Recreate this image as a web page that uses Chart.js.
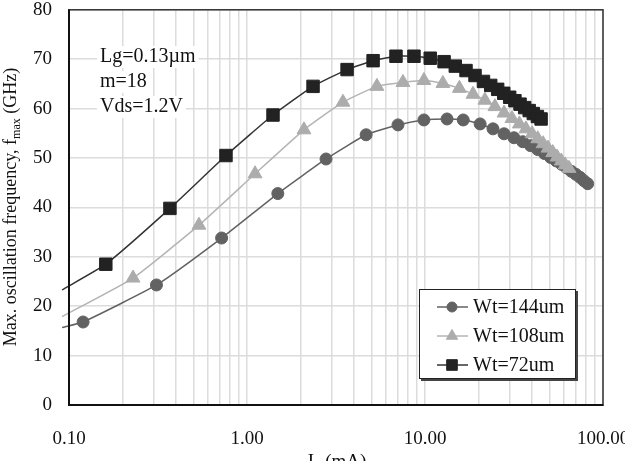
<!DOCTYPE html>
<html>
<head>
<meta charset="utf-8">
<script src="https://cdn.jsdelivr.net/npm/chart.js@4.4.1/dist/chart.umd.min.js"></script>
<style>
  html, body { margin: 0; padding: 0; background: #fff; }
</style>
</head>
<body>
<canvas id="c" width="625" height="461"></canvas>
<script>
// ------------------------------------------------------------
// DATA (first point of each series is the
// lead-in of the drawn line, it has no marker)
// ------------------------------------------------------------
const id144   = [0.0914, 0.12, 0.31, 0.72, 1.49, 2.78, 4.67, 7.05, 9.86, 13.3, 16.4, 20.4, 24.1, 27.8, 31.6, 35.4, 39.2, 43.0, 46.9, 50.8, 54.7, 58.6, 62.5, 66.4, 70.3, 74.2, 78.1, 82.0];
const fmax144 = [15.7, 16.8, 24.3, 33.8, 42.8, 49.8, 54.7, 56.7, 57.7, 57.9, 57.7, 56.9, 55.9, 54.9, 54.1, 53.3, 52.5, 51.7, 50.9, 50.1, 49.4, 48.7, 48.0, 47.3, 46.7, 46.1, 45.4, 44.8];

const id108   = [0.0914, 0.229, 0.537, 1.11, 2.09, 3.46, 5.37, 7.52, 9.86, 12.6, 15.6, 18.6, 21.7, 24.7, 27.8, 30.8, 33.9, 36.9, 40.0, 43.0, 46.1, 49.1, 52.2, 55.2, 58.3, 61.3, 64.4];
const fmax108 = [17.9, 25.7, 36.4, 46.8, 55.7, 61.3, 64.5, 65.3, 65.7, 65.1, 64.1, 62.9, 61.7, 60.4, 59.1, 58.0, 56.9, 55.9, 54.9, 53.9, 52.9, 52.0, 51.1, 50.2, 49.4, 48.6, 47.9];

const id72    = [0.0914, 0.161, 0.369, 0.762, 1.40, 2.35, 3.65, 5.11, 6.87, 8.67, 10.7, 12.8, 14.8, 17.0, 19.1, 21.3, 23.4, 25.6, 27.7, 29.9, 32.0, 34.2, 36.3, 38.5, 40.6, 42.8, 44.9];
const fmax72  = [23.3, 28.5, 39.8, 50.5, 58.7, 64.5, 67.9, 69.7, 70.6, 70.6, 70.2, 69.5, 68.6, 67.7, 66.7, 65.5, 64.7, 63.9, 63.1, 62.3, 61.6, 60.9, 60.2, 59.6, 59.0, 58.4, 57.9];

const seriesNames = ["Wt=144um", "Wt=108um", "Wt=72um"];
const xMajorTicks = [0.1, 1, 10, 100];
const xTickLabels = ["0.10", "1.00", "10.00", "100.00"];
const noteLines   = ["Lg=0.13\u00b5m", "m=18", "Vds=1.2V"];

const paperFont = '"Liberation Serif", "Times New Roman", serif';


// ------------------------------------------------------------
// HELPERS
// ------------------------------------------------------------

function toPoints(xs, ys) {
  return xs.map((x, i) => ({ x: x, y: ys[i] }));
}

// log grid: 1..9 x each decade
function logGrid() {
  const out = [];
  for (let k = -1; k < 2; k++) {
    for (let m = 1; m < 10; m++) out.push(m * Math.pow(10, k));
  }
  out.push(100);
  return out;
}

function drawRich(ctx, parts, x, y, angle) {
  ctx.save();
  ctx.translate(x, y);
  ctx.rotate(angle);
  let total = 0;
  parts.forEach(p => {
    ctx.font = p.size + "px " + paperFont;
    p.w = ctx.measureText(p.text).width;
    total += p.w;
  });
  let cx = -total / 2;
  ctx.textAlign = "left";
  ctx.textBaseline = "alphabetic";
  ctx.fillStyle = "#111";
  parts.forEach(p => {
    ctx.font = p.size + "px " + paperFont;
    ctx.fillText(p.text, cx, p.dy || 0);
    cx += p.w;
  });
  ctx.restore();
}

function makeSet(label, pts, color, lineColor, style, radius, order) {
  return {
    label: label,
    data: pts,
    borderColor: lineColor,
    borderWidth: 1.5,
    backgroundColor: color,
    pointStyle: style,
    pointRadius: c => (c.dataIndex === 0 ? 0 : radius),
    pointBackgroundColor: color,
    pointBorderColor: color,
    pointBorderWidth: 1,
    tension: 0.15,
    clip: { left: 8, top: 0, right: 0, bottom: 0 },
    order: order
  };
}


// ------------------------------------------------------------
// EXTRAS: frame, note, legend, axis titles
// ------------------------------------------------------------

const extras = {
  id: "extras",
  afterDraw(chart) {
    const ctx = chart.ctx;
    const a = chart.chartArea;

    // frame
    ctx.save();
    ctx.strokeStyle = "#333";
    ctx.lineWidth = 1.5;
    ctx.strokeRect(a.left, a.top, a.right - a.left, a.bottom - a.top);
    ctx.strokeStyle = "#111";
    ctx.lineWidth = 2;
    ctx.beginPath();
    ctx.moveTo(a.left, a.top);
    ctx.lineTo(a.left, a.bottom);
    ctx.lineTo(a.right, a.bottom);
    ctx.stroke();
    ctx.restore();

    // note text, top left
    ctx.save();
    ctx.font = "20px " + paperFont;
    ctx.textAlign = "left";
    ctx.textBaseline = "middle";
    noteLines.forEach((t, i) => {
      const y = 57 + i * 25;
      const w = ctx.measureText(t).width;
      ctx.fillStyle = "#fff";
      ctx.fillRect(97, y - 11, w + 6, 22);
      ctx.fillStyle = "#111";
      ctx.fillText(t, 100, y);
    });
    ctx.restore();

    // legend box
    const bx = 419, by = 289, bw = 157, bh = 90;
    ctx.save();
    ctx.fillStyle = "#444";
    ctx.fillRect(bx + 2, by + 2, bw, bh);
    ctx.fillStyle = "#fff";
    ctx.fillRect(bx, by, bw, bh);
    ctx.strokeStyle = "#222";
    ctx.lineWidth = 1;
    ctx.strokeRect(bx + 0.5, by + 0.5, bw - 1, bh - 1);

    const legendRadius = [5, 6.5, 7.5];
    const sets = chart.data.datasets;
    sets.forEach((ds, i) => {
      const y = 307 + i * 29;
      ctx.strokeStyle = ds.borderColor;
      ctx.lineWidth = 1.5;
      ctx.beginPath();
      ctx.moveTo(437, y);
      ctx.lineTo(468, y);
      ctx.stroke();
      ctx.fillStyle = ds.pointBackgroundColor;
      ctx.strokeStyle = ds.pointBorderColor;
      ctx.lineWidth = 1;
      Chart.helpers.drawPoint(ctx, {
        pointStyle: ds.pointStyle, radius: legendRadius[i], rotation: 0, borderWidth: 1
      }, 452, y);
      ctx.fillStyle = "#111";
      ctx.font = "20px " + paperFont;
      ctx.textAlign = "left";
      ctx.textBaseline = "middle";
      ctx.fillText(ds.label, 473, y + 1);
    });
    ctx.restore();

    // axis titles
    drawRich(ctx, [
      { text: "Max. oscillation frequency, f", size: 18 },
      { text: "max", size: 12, dy: 4 },
      { text: " (GHz)", size: 18 }
    ], 16, 207, -Math.PI / 2);

    drawRich(ctx, [
      { text: "I", size: 19 },
      { text: "d", size: 13, dy: 4 },
      { text: " (mA)", size: 19 }
    ], 337, 467, 0);
  }
};


// ------------------------------------------------------------
// CHART
// ------------------------------------------------------------

const gridStyle = { color: "#dcdcdc", lineWidth: 1.5, drawTicks: false };

new Chart(document.getElementById("c"), {
  type: "line",
  data: {
    datasets: [
      makeSet(seriesNames[0], toPoints(id144, fmax144), "#626262", "#626262", "circle", 6, 3),
      makeSet(seriesNames[1], toPoints(id108, fmax108), "#acacac", "#b4b4b4", "triangle", 8, 2),
      makeSet(seriesNames[2], toPoints(id72, fmax72), "#222222", "#333333", "rect", 8.8, 1)
    ]
  },
  options: {
    responsive: false,
    animation: false,
    events: [],
    layout: { padding: { top: 7, right: 22, left: 0, bottom: 0 } },
    plugins: {
      legend: { display: false },
      tooltip: { enabled: false }
    },
    scales: {
      x: {
        type: "logarithmic",
        min: 0.1,
        max: 100,
        grid: gridStyle,
        border: { color: "#111", width: 2 },
        afterBuildTicks: s => { s.ticks = logGrid().map(v => ({ value: v })); },
        afterFit: s => { s.height = 56; s.paddingLeft = 0; s.paddingRight = 0; },
        ticks: {
          autoSkip: false,
          maxRotation: 0,
          minRotation: 0,
          padding: 23,
          color: "#111",
          font: { family: paperFont, size: 19 },
          callback: v => {
            const k = xMajorTicks.findIndex(t => Math.abs(t - v) < 1e-9);
            return k >= 0 ? xTickLabels[k] : "";
          }
        }
      },
      y: {
        min: 0,
        max: 80,
        grid: gridStyle,
        border: { color: "#111", width: 2 },
        afterFit: s => { s.width = 69; s.paddingTop = 0; s.paddingBottom = 0; },
        ticks: {
          stepSize: 10,
          padding: 17,
          color: "#111",
          font: { family: paperFont, size: 19 }
        }
      }
    }
  },
  plugins: [extras]
});
</script>
</body>
</html>
